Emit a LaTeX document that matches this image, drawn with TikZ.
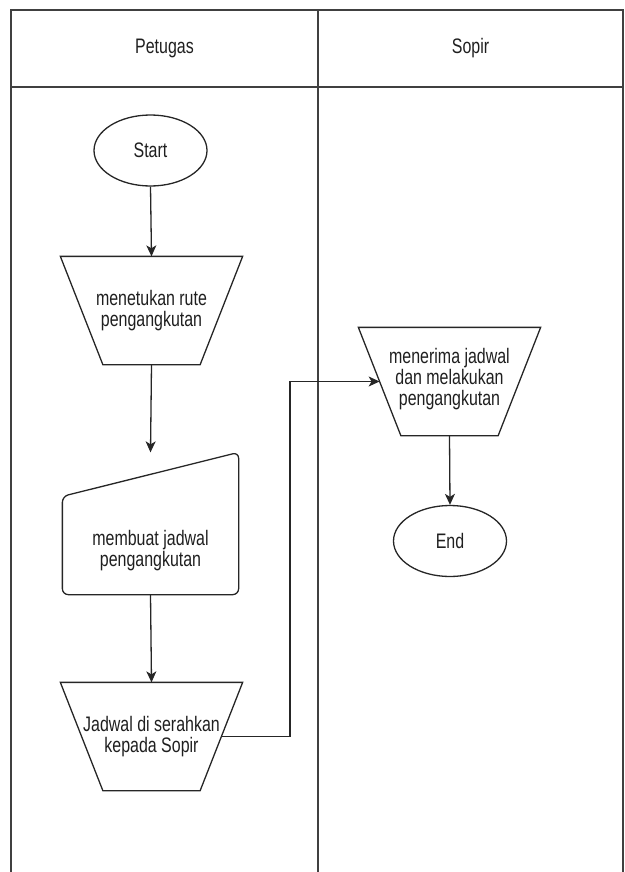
\documentclass[tikz,border=0pt]{standalone}
\usepackage{fontspec}
\setmainfont[FakeStretch=0.76]{Liberation Sans}
\usetikzlibrary{shapes.geometric,arrows.meta}
\begin{document}
\begin{tikzpicture}[x=1pt,y=-1pt,
  line width=1.3pt,
  every node/.style={font=\fontsize{21}{21}\selectfont, text=black!88},
  lane/.style={draw=black!75, line width=1.4pt},
  term/.style={ellipse, draw=black!85, minimum width=113pt, minimum height=71pt, inner sep=0pt},
  manbox/.style={minimum width=181pt, minimum height=107pt, inner sep=0pt},
  frame/.style={minimum width=175pt, minimum height=141pt, inner sep=0pt},
  outline/.style={draw=black!85},
  txt/.style={align=center, inner sep=0pt},
  flow/.style={draw=black!85, -{Stealth[length=11pt,width=10pt,inset=3pt]}, line width=1.3pt},
]
\useasboundingbox (0,0) rectangle (624,872);

% manual operation outline (inverted trapezium) around a box node
\newcommand{\manop}[1]{%
  \draw[outline] (#1.north west) -- (#1.north east)
    -- ([xshift=-42.5pt]#1.south east) -- ([xshift=42.5pt]#1.south west) -- cycle;}

% swimlane frame
\draw[lane] (11,872) -- (11,10) -- (623,10) -- (623,872);
\draw[lane] (11,87) -- (623,87);
\draw[lane] (318,10) -- (318,872);
\node (lane1) at (164.5,48.5) {Petugas};
\node (lane2) at (470.5,48.5) {Sopir};

% Petugas lane
\node[term] (start) at (150.5,150.5) {Start};

\node[manbox] (rute) at (151.5,310.5) {};
\manop{rute}
\node[txt] (ruteT) at (rute) {menetukan rute\\pengangkutan};

\node[frame] (jadwal) at (150.5,523.5) {};
\draw[outline, rounded corners=6pt] (jadwal.south) -- (jadwal.south west)
  -- ([yshift=-44pt]jadwal.north west) -- (jadwal.north east)
  -- (jadwal.south east) -- cycle;
\node[txt] (jadwalT) at (150.5,551) {membuat jadwal\\pengangkutan};

\node[manbox] (serah) at (151.5,736.5) {};
\manop{serah}
\node[txt] (serahT) at (serah) {Jadwal di serahkan\\kepada Sopir};

% Sopir lane
\node[manbox] (terima) at (449.5,381.5) {};
\manop{terima}
\node[txt] (terimaT) at (449.5,379) {menerima jadwal\\dan melakukan\\pengangkutan};

\node[term] (end) at (450,541) {End};

% connectors
\coordinate (bend) at (290,0);
\draw[flow] (start.south) -- (rute.north);
\draw[flow] (rute.south) -- (jadwal.north);
\draw[flow] (jadwal.south) -- (serah.north);
\draw[flow] ([xshift=-21.25pt]serah.east) -- (serah.east -| bend)
  |- ([xshift=21.25pt]terima.west);
\draw[flow] (terima.south) -- (end.north);
\end{tikzpicture}
\end{document}
